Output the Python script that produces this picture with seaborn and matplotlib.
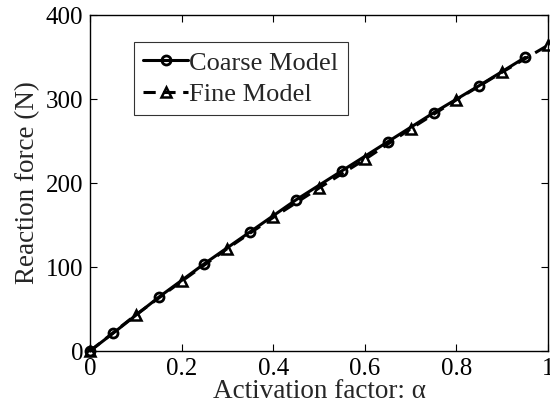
import matplotlib
matplotlib.use("Agg")
import matplotlib.pyplot as plt
import seaborn as sns
import pandas as pd

# Reaction force vs activation factor for the two mesh resolutions
coarse_alpha = [0.0, 0.05, 0.15, 0.25, 0.35, 0.45, 0.55, 0.65, 0.75, 0.85, 0.95]
coarse_force = [0.0, 21.0, 64.0, 104.0, 142.0, 180.0, 214.5, 249.0, 283.5, 316.0, 349.5]

fine_alpha = [0.0, 0.1, 0.2, 0.3, 0.4, 0.5, 0.6, 0.7, 0.8, 0.9, 1.0]
fine_force = [0.0, 43.0, 83.0, 122.0, 159.0, 194.0, 228.0, 264.5, 299.0, 332.0, 364.0]

x_ticks = [0, 0.2, 0.4, 0.6, 0.8, 1]
x_tick_labels = ["0", "0.2", "0.4", "0.6", "0.8", "1"]
y_ticks = [0, 100, 200, 300, 400]
y_tick_labels = ["0", "100", "200", "300", "400"]

coarse = pd.DataFrame({"alpha": coarse_alpha, "force": coarse_force})
fine = pd.DataFrame({"alpha": fine_alpha, "force": fine_force})

sns.set_theme(style="white")
plt.rcParams["font.family"] = ["Liberation Serif", "DejaVu Serif"]

fig = plt.figure(figsize=(5.5, 4.09), dpi=100)
ax = fig.add_axes([0.1636, 0.1418, 0.8328, 0.8215])

sns.lineplot(data=coarse, x="alpha", y="force", ax=ax, color="black",
             linewidth=2.2, marker="o", markersize=6.5, markerfacecolor="none",
             markeredgecolor="black", markeredgewidth=2.0,
             label="Coarse Model", clip_on=False)
sns.lineplot(data=fine, x="alpha", y="force", ax=ax, color="black",
             linewidth=2.2, linestyle=(0, (4, 2.5)), marker="^", markersize=7.5,
             markerfacecolor="none", markeredgecolor="black",
             markeredgewidth=1.8, label="Fine Model", clip_on=False)

ax.set_xlim(0, 1)
ax.set_ylim(0, 400)
ax.set_xticks(x_ticks)
ax.set_xticklabels(x_tick_labels)
ax.set_yticks(y_ticks)
ax.set_yticklabels(y_tick_labels)

ax.set_xlabel("Activation factor: α", fontsize=19.5, labelpad=-1)
ax.set_ylabel("Reaction force (N)", fontsize=19.5, labelpad=4)

ax.tick_params(axis="both", which="both", direction="in", length=5,
               width=0.8, colors="black", labelsize=18,
               top=True, right=True, bottom=True, left=True)
ax.tick_params(axis="x", pad=5)
ax.tick_params(axis="y", pad=5)
for side in ["top", "right", "bottom", "left"]:
    ax.spines[side].set_visible(True)
    ax.spines[side].set_color("black")
    ax.spines[side].set_linewidth(1.0)

leg = ax.legend(loc="upper left", bbox_to_anchor=(0.096, 0.92), fontsize=19,
                frameon=True, fancybox=False, edgecolor="black",
                handlelength=1.7, handletextpad=0.05, borderpad=0.35,
                labelspacing=0.3, borderaxespad=0)
leg.get_frame().set_linewidth(0.8)

fig.savefig("out.png", dpi=100)
